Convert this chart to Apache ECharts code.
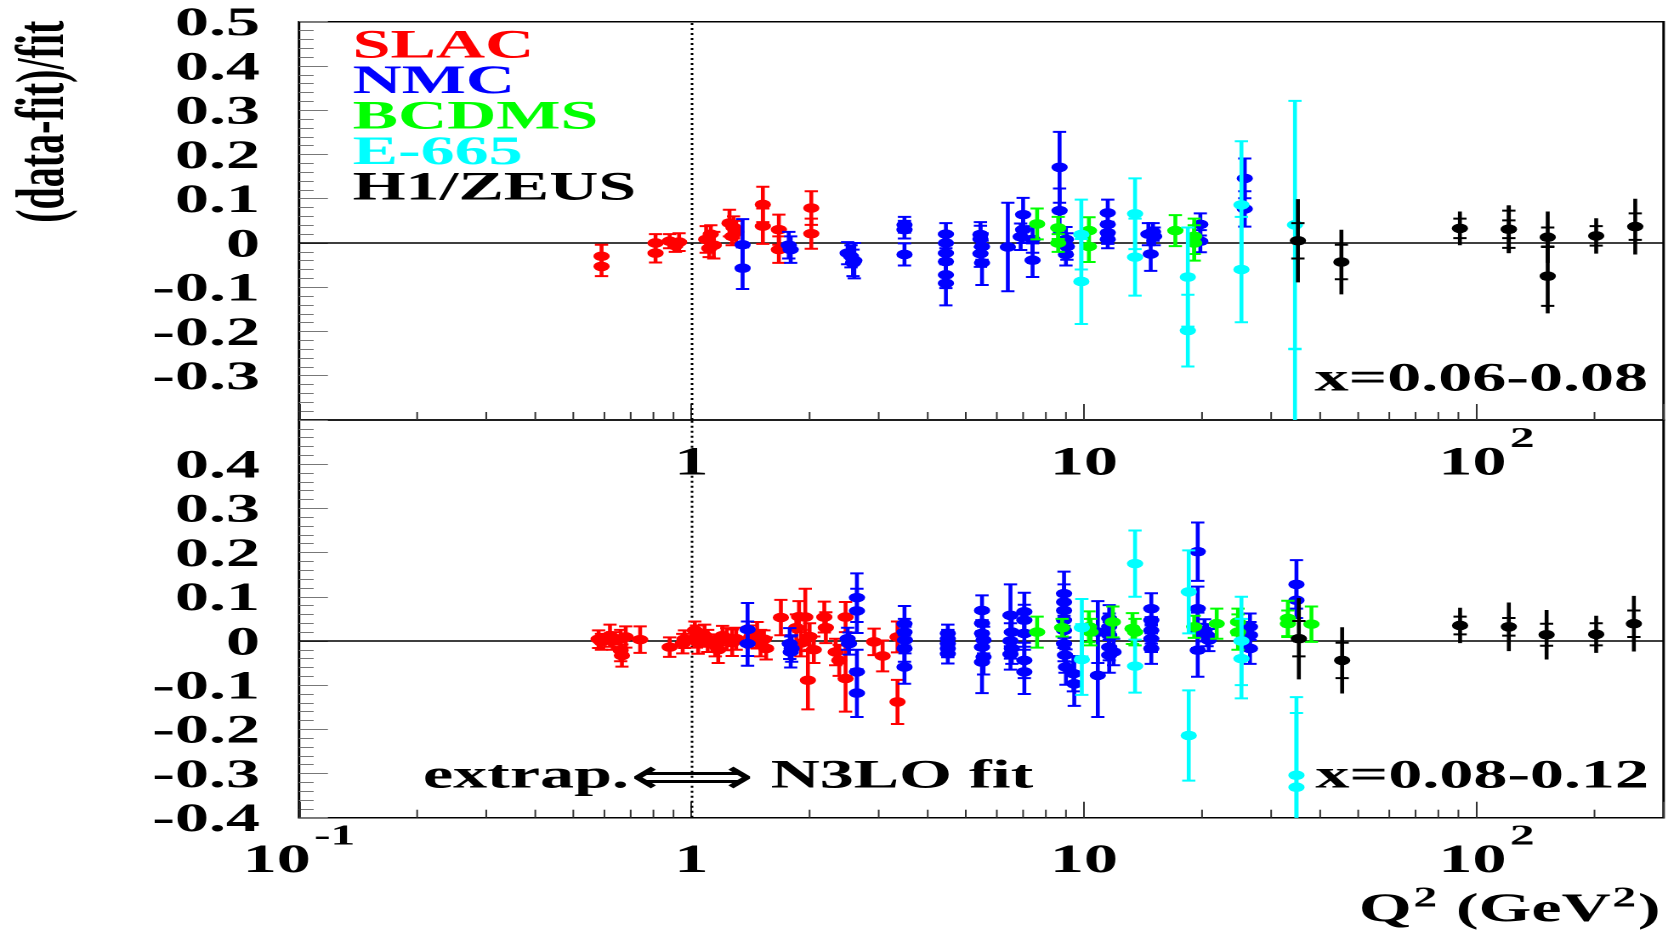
<!DOCTYPE html>
<html><head><meta charset="utf-8">
<script src="https://cdn.jsdelivr.net/npm/echarts@6/dist/echarts.min.js"></script>
<style>
html,body{margin:0;padding:0;background:#fff;overflow:hidden}
#wrap{width:1668px;height:939px;overflow:hidden;position:relative;background:#fff}
#chart{width:981px;height:939px;transform:scaleX(1.70031);transform-origin:0 0}
</style></head><body><div id="wrap"><div id="chart"></div></div>
<script>
// ---------- DATA ----------
// each colored point: [Q2 (GeV^2), (data-fit)/fit, error]
// H1/ZEUS point: [Q2, value, stat error, total error]
const experiments = ['SLAC', 'NMC', 'BCDMS', 'E-665', 'H1/ZEUS'];
const panelLabels = ['x=0.06-0.08', 'x=0.08-0.12'];

const slacTop = [
 [0.59,-0.030,0.026],[0.59,-0.053,0.022],[0.81,0.000,0.020],[0.81,-0.023,0.021],
 [0.88,0.004,0.016],[0.91,-0.006,0.014],[0.93,0.002,0.020],
 [1.09,0.008,0.030],[1.12,0.020,0.020],[1.14,-0.005,0.030],[1.11,-0.012,0.020],
 [1.25,0.045,0.030],[1.28,0.035,0.025],[1.30,0.025,0.025],[1.27,0.015,0.020],
 [1.52,0.087,0.040],[1.52,0.038,0.040],[1.67,0.030,0.034],[1.67,-0.015,0.030],
 [2.02,0.079,0.038],[2.02,0.021,0.034]
];
const nmcTop = [
 [1.35,-0.004,0.058],[1.35,-0.057,0.047],[1.77,-0.005,0.030],[1.79,-0.015,0.030],
 [2.50,-0.023,0.025],[2.55,-0.030,0.025],[2.60,-0.040,0.040],[2.58,-0.045,0.030],
 [3.49,0.041,0.018],[3.49,0.030,0.020],[3.49,-0.026,0.025],
 [4.45,0.020,0.025],[4.45,0.000,0.020],[4.45,-0.023,0.025],[4.45,-0.042,0.030],[4.45,-0.072,0.030],[4.45,-0.091,0.050],
 [5.45,0.019,0.028],[5.45,0.009,0.030],[5.50,-0.008,0.030],[5.45,-0.024,0.030],[5.50,-0.045,0.050],
 [6.40,-0.009,0.100],[7.00,0.064,0.038],[7.00,0.030,0.030],[6.90,0.014,0.030],
 [7.40,0.008,0.030],[7.40,-0.039,0.038],[8.67,0.171,0.080],[8.67,0.073,0.050],
 [9.00,0.008,0.028],[9.05,-0.008,0.030],[9.00,-0.026,0.025],
 [11.5,0.068,0.030],[11.5,0.042,0.025],[11.5,0.023,0.025],[11.5,0.008,0.020],
 [14.6,0.020,0.025],[15.0,0.025,0.020],[14.8,-0.025,0.038],[15.1,0.015,0.020],
 [19.8,0.042,0.025],[19.8,0.004,0.025],[25.7,0.146,0.045],[25.7,0.077,0.040]
];
const bcdmsTop = [
 [7.6,0.043,0.035],[8.6,0.034,0.025],[8.6,0.000,0.020],[10.3,0.028,0.030],[10.3,-0.008,0.035],
 [17.1,0.028,0.035],[19.1,0.015,0.040],[19.1,0.000,0.040]
];
const e665Top = [
 [9.85,0.019,0.079],[9.85,-0.087,0.096],[13.5,0.066,0.080],[13.5,-0.032,0.087],
 [18.4,-0.077,0.112],[18.4,-0.198,0.081],[25.2,0.086,0.144],[25.2,-0.060,0.119],
 [34.5,0.041,0.280],[34.5,-0.550,0.310]
];
const h1Top = [
 [35.1,0.005,0.040,0.094],[45.3,-0.043,0.039,0.073],[90.8,0.033,0.022,0.038],
 [121,0.031,0.020,0.054],[121,0.031,0.042,0.054],[152,0.013,0.022,0.058],
 [152,-0.075,0.067,0.084],[202,0.016,0.022,0.040],[254,0.037,0.030,0.063]
];

const slacBot = [
 [0.58,0.004,0.020],[0.59,-0.002,0.018],[0.62,0.012,0.025],[0.63,0.000,0.020],
 [0.66,0.005,0.020],[0.66,-0.021,0.025],[0.665,-0.033,0.025],[0.68,0.009,0.024],
 [0.74,0.003,0.030],[0.88,-0.014,0.022],[0.95,-0.006,0.022],[0.96,0.004,0.020],
 [1.02,0.024,0.020],[1.03,0.010,0.025],[1.04,-0.004,0.025],[1.08,0.012,0.025],
 [1.10,0.000,0.025],[1.15,-0.010,0.025],[1.17,-0.020,0.030],[1.20,0.012,0.022],
 [1.23,0.004,0.025],[1.27,-0.004,0.030],[1.30,0.005,0.025],[1.42,0.010,0.025],
 [1.47,0.013,0.030],[1.50,-0.005,0.030],[1.53,0.004,0.020],[1.55,-0.017,0.025],
 [1.69,0.053,0.040],[1.85,0.030,0.030],[1.88,0.055,0.035],[1.90,-0.005,0.030],
 [1.95,0.054,0.064],[1.98,-0.089,0.066],[2.00,0.010,0.030],[2.05,-0.020,0.030],
 [2.18,0.054,0.035],[2.20,0.030,0.035],[2.33,-0.025,0.030],[2.38,-0.044,0.035],
 [2.47,0.054,0.034],[2.47,-0.085,0.075],[2.92,-0.002,0.030],[3.07,-0.034,0.035],
 [3.35,0.009,0.035],[3.35,-0.138,0.050]
];
const nmcBot = [
 [1.39,0.026,0.060],[1.39,-0.006,0.050],[1.78,-0.006,0.035],[1.80,-0.017,0.030],[1.79,-0.025,0.035],
 [2.50,0.005,0.025],[2.52,-0.006,0.025],[2.64,0.098,0.055],[2.64,0.068,0.050],[2.64,-0.070,0.050],[2.64,-0.118,0.054],
 [3.49,0.039,0.040],[3.49,0.020,0.030],[3.50,0.002,0.030],[3.49,-0.017,0.030],[3.49,-0.059,0.038],
 [4.5,0.017,0.020],[4.5,0.005,0.020],[4.5,-0.006,0.020],[4.5,-0.017,0.020],[4.5,-0.029,0.022],
 [5.5,0.069,0.034],[5.5,0.040,0.030],[5.5,0.017,0.030],[5.55,0.002,0.030],[5.5,-0.014,0.035],[5.55,-0.036,0.040],[5.5,-0.048,0.070],
 [6.5,0.058,0.070],[6.55,0.020,0.040],[6.5,0.000,0.040],[6.55,-0.017,0.035],[6.5,-0.030,0.035],
 [7.05,0.066,0.043],[7.05,0.047,0.035],[7.05,0.017,0.030],[7.05,-0.044,0.040],[7.05,-0.070,0.050],
 [8.9,0.107,0.050],[8.9,0.088,0.040],[8.9,0.069,0.040],[8.9,0.047,0.040],[8.9,0.024,0.040],[8.9,-0.006,0.040],
 [8.95,-0.032,0.040],[9.0,-0.059,0.040],[9.4,-0.074,0.040],[9.45,-0.097,0.050],
 [10.85,0.020,0.070],[10.85,-0.078,0.094],
 [11.6,0.051,0.030],[11.6,0.032,0.030],[11.6,0.013,0.030],[11.6,-0.014,0.030],[11.6,-0.032,0.040],[11.9,-0.025,0.030],
 [14.85,0.073,0.035],[14.85,0.047,0.030],[14.85,0.024,0.030],[14.85,0.005,0.030],[14.85,-0.017,0.035],
 [19.5,0.202,0.066],[19.5,0.073,0.050],[19.5,0.024,0.040],[19.5,-0.021,0.060],
 [20.3,0.024,0.025],[20.6,0.013,0.025],[20.8,0.002,0.025],
 [26.5,0.032,0.030],[26.5,0.013,0.030],[26.5,-0.017,0.035],
 [34.8,0.128,0.055],[34.8,0.092,0.040]
];
const bcdmsBot = [
 [7.6,0.020,0.035],[8.8,0.030,0.020],[10.3,0.032,0.035],[10.4,0.020,0.030],[11.85,0.043,0.035],
 [13.3,0.028,0.035],[13.5,0.020,0.030],[19.1,0.032,0.025],[21.8,0.039,0.034],
 [24.7,0.043,0.030],[24.7,0.020,0.040],[33.1,0.051,0.040],[33.1,0.039,0.030],[38.0,0.038,0.040]
];
const e665Bot = [
 [9.88,0.030,0.065],[9.88,-0.042,0.080],[13.5,0.175,0.075],[13.5,-0.057,0.060],
 [18.5,0.111,0.094],[18.5,-0.214,0.102],[25.2,0.000,0.100],[25.2,-0.040,0.090],
 [34.8,-0.304,0.177],[34.8,-0.331,0.168]
];
const h1Bot = [
 [35.3,0.005,0.040,0.092],[45.5,-0.044,0.040,0.075],[90.9,0.035,0.020,0.040],
 [121,0.032,0.020,0.055],[151,0.014,0.025,0.056],[202,0.015,0.025,0.042],[252,0.039,0.030,0.063]
];

// axis tick labels
const xLabelExponents = [-1, 0, 1, 2];
const xLabelTexts = ['{b|10}{s|-1}', '{b|1}', '{b|10}', '{c|10}{s|2}'];
const xMinorTickQ2 = [0.2,0.3,0.4,0.5,0.6,0.7,0.8,0.9,2,3,4,5,6,7,8,9,20,30,40,50,60,70,80,90,200];
const yTickLabels = ['-0.4','-0.3','-0.2','-0.1','0','0.1','0.2','0.3','0.4','0.5'];

// ---------- STYLE ----------
const SERIF = '"Liberation Serif","Times New Roman",Times,serif';
const colors = {'SLAC':'#ff0000','NMC':'#0000ff','BCDMS':'#00ff00','E-665':'#00ffff','H1/ZEUS':'#000000'};
const CAP = 3.9, LW = 2, VLW = 2.3, R = 4.8;

function errRender(color) {
  return function (params, api) {
    const x = api.value(0), y = api.value(1), es = api.value(2);
    let et = api.value(3);
    if (et == null || isNaN(et)) et = es;
    const c = api.coord([x, y]);
    const t = api.coord([x, y + et]), b = api.coord([x, y - et]);
    const st = api.coord([x, y + es]), sb = api.coord([x, y - es]);
    const ls = {stroke: color, lineWidth: LW};
    return {type: 'group', children: [
      {type:'line', shape:{x1:c[0], y1:t[1], x2:c[0], y2:b[1]}, style: {stroke: color, lineWidth: VLW}},
      {type:'line', shape:{x1:c[0]-CAP, y1:st[1], x2:c[0]+CAP, y2:st[1]}, style: ls},
      {type:'line', shape:{x1:c[0]-CAP, y1:sb[1], x2:c[0]+CAP, y2:sb[1]}, style: ls},
      {type:'circle', shape:{cx:c[0], cy:c[1], r:R}, style:{fill: color}}
    ]};
  };
}

function errSeries(name, gi, data) {
  return {
    type: 'custom', name: name, xAxisIndex: gi, yAxisIndex: gi, clip: true, z: 3,
    data: data, encode: {x: 0, y: 1}, itemStyle: {color: colors[name]},
    renderItem: errRender(colors[name])
  };
}

function refSeries(gi) {
  return {
    type: 'custom', name: 'ref' + gi, xAxisIndex: gi, yAxisIndex: gi, silent: true, z: 1,
    data: xMinorTickQ2.map(v => [v, 0]), encode: {x: 0, y: 1},
    renderItem: function (params, api) {
      const cs = params.coordSys;
      const px = api.coord([api.value(0), 0])[0];
      const yb = cs.y + cs.height;
      return {type:'line', shape:{x1:px, y1:yb, x2:px, y2:yb-8}, style:{stroke:'#333', lineWidth:1}};
    },
    markLine: {
      symbol: 'none', silent: true, animation: false, label: {show: false}, z: 1,
      data: [
        {yAxis: 0, lineStyle: {color:'#000', width:1.5, type:'solid'}},
        {xAxis: 1, lineStyle: {color:'#000', width:1.5, type:[2,3]}}
      ]
    }
  };
}

function xAxisCfg(gi, showMinLabel) {
  return {
    type: 'log', logBase: 10, gridIndex: gi, min: 0.1, max: 300,
    axisLine: {show: false, onZero: false}, splitLine: {show: false},
    axisTick: {show: true, inside: true, length: 16, lineStyle: {color: '#333', width: 1}},
    axisLabel: {
      margin: 5, color: '#000', hideOverlap: false,
      formatter: function (v) {
        const l = Math.log10(v), e = Math.round(l);
        if (Math.abs(l - e) > 1e-6) return '';
        const i = xLabelExponents.indexOf(e);
        if (i < 0) return '';
        if (e === -1 && !showMinLabel) return '';
        return xLabelTexts[i];
      },
      rich: {
        b: {fontFamily: SERIF, fontWeight: 'bold', fontSize: 40, color: '#000', padding: [19, 0, 0, 0]},
        c: {fontFamily: SERIF, fontWeight: 'bold', fontSize: 40, color: '#000', padding: [19, 0, 0, 12]},
        s: {fontFamily: SERIF, fontWeight: 'bold', fontSize: 29, color: '#000', verticalAlign: 'top', padding: [0, 0, 0, 2]}
      }
    }
  };
}

function yAxisCfg(gi, hiddenLabel) {
  return {
    type: 'value', gridIndex: gi, min: -0.4, max: 0.5, interval: 0.1,
    axisLine: {show: false, onZero: false}, splitLine: {show: false},
    axisTick: {show: true, inside: true, length: 17, lineStyle: {color: '#777', width: 1}},
    minorTick: {show: true, splitNumber: 5, length: 8.6, lineStyle: {color: '#777', width: 1}},
    axisLabel: {
      margin: 23, color: '#000',
      formatter: function (v) {
        const idx = Math.round((v + 0.4) * 10);
        const t = yTickLabels[idx];
        return t === hiddenLabel ? '' : '{a|' + t + '}';
      },
      rich: {a: {fontFamily: SERIF, fontWeight: 'bold', fontSize: 40, color: '#000', padding: [6, 0, 0, 0]}}
    }
  };
}

const txt = (s, size, extra) => Object.assign({text: s, fill: '#000',
  font: 'bold ' + (size || 40) + 'px ' + SERIF}, extra || {});

const option = {
  animation: false,
  backgroundColor: '#fff',
  grid: [
    {left: 175.85, right: 2.6, top: 21.7, height: 398.3, show: true, borderColor: '#000', borderWidth: 1.5, backgroundColor: 'transparent', containLabel: false, outerBoundsMode: 'none'},
    {left: 175.85, right: 2.6, top: 420, height: 397.7, show: true, borderColor: '#000', borderWidth: 1.5, backgroundColor: 'transparent', containLabel: false, outerBoundsMode: 'none'}
  ],
  xAxis: [xAxisCfg(0, false), xAxisCfg(1, true)],
  yAxis: [yAxisCfg(0, '-0.4'), yAxisCfg(1, '0.5')],
  legend: {
    orient: 'vertical', left: 202.4, top: 27, padding: 0, itemGap: -4.5,
    itemWidth: 0, itemHeight: 0, icon: 'none',
    textStyle: {fontFamily: SERIF, fontWeight: 'bold', fontSize: 40, lineHeight: 35.2},
    data: experiments.map(n => ({name: n, textStyle: {color: colors[n]}}))
  },
  graphic: [
    {type:'text', x: 26.9, y: 121.7, rotation: Math.PI/2, silent: true,
      style: txt('(data-fit)/fit', 40, {align:'center', verticalAlign:'middle'})},
    {type:'text', x: 969.2, y: 380, silent: true,
      style: txt(panelLabels[0], 40, {align:'right', verticalAlign:'middle'})},
    {type:'text', x: 969.8, y: 777, silent: true,
      style: txt(panelLabels[1], 40, {align:'right', verticalAlign:'middle'})},
    {type:'text', x: 248.8, y: 777, silent: true,
      style: txt('extrap.', 40, {align:'left', verticalAlign:'middle'})},
    {type:'text', x: 407, y: 780, silent: true,
      style: {text: '\u27FA', fill: '#000', font: '51px "DejaVu Sans"', align: 'center', verticalAlign: 'middle'}},
    {type:'text', x: 453.2, y: 777, silent: true,
      style: txt('N3LO fit', 40, {align:'left', verticalAlign:'middle'})},
    {type:'text', x: 976.6, y: 908, silent: true,
      style: {text: '{b|Q}{s|2}{b| (GeV}{s|2}{b|)}', align: 'right', verticalAlign: 'middle',
        rich: {
          b: {fontFamily: SERIF, fontWeight: 'bold', fontSize: 40, fill: '#000', padding: [5, 0, 0, 0]},
          s: {fontFamily: SERIF, fontWeight: 'bold', fontSize: 28, fill: '#000', verticalAlign: 'top', padding: [0, 1, 0, 1]}
        }}}
  ],
  series: [
    refSeries(0), refSeries(1),
    errSeries('SLAC', 0, slacTop), errSeries('NMC', 0, nmcTop), errSeries('BCDMS', 0, bcdmsTop),
    errSeries('E-665', 0, e665Top), errSeries('H1/ZEUS', 0, h1Top),
    errSeries('SLAC', 1, slacBot), errSeries('NMC', 1, nmcBot), errSeries('BCDMS', 1, bcdmsBot),
    errSeries('E-665', 1, e665Bot), errSeries('H1/ZEUS', 1, h1Bot)
  ]
};

const chart = echarts.init(document.getElementById('chart'), null, {renderer: 'canvas', devicePixelRatio: 2});
chart.setOption(option);
</script></body></html>
